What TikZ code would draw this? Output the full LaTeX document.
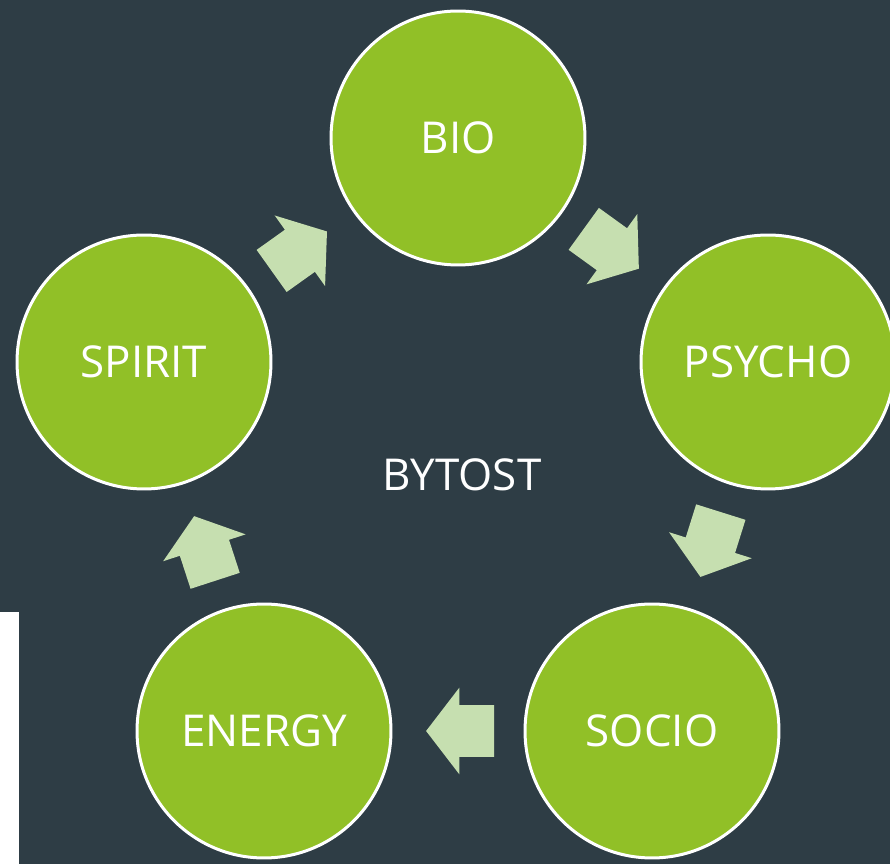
\documentclass[tikz,border=0pt]{standalone}
\usepackage{fontspec}
\setmainfont{Open Sans}
\usetikzlibrary{shapes.arrows,calc}
\definecolor{bgColor}{HTML}{2E3D45}
\definecolor{dotColor}{HTML}{91C027}
\definecolor{flowColor}{HTML}{C6DFB0}
\tikzset{
	stage/.style={circle, draw=white, line width=0.6mm, fill=dotColor, inner sep=0,
		minimum size=5.08cm, text=white, font=\fontsize{25}{30}\selectfont},
	flow/.style={single arrow, fill=flowColor, draw=none, inner xsep=0, inner ysep=5.1mm,
		minimum height=13.6mm, single arrow head extend=3.5mm, single arrow tip angle=105,
		sloped, allow upside down, xshift=-2.4mm}
}

\begin{document}
\begin{tikzpicture}[x=0.02cm, y=-0.02cm]
	\useasboundingbox (0,0) rectangle (890,864);
	\clip (0,0) rectangle (890,864);
	\fill[bgColor] (0,0) rectangle (890,864);
	\fill[white] (0,612) rectangle (19,864);
	\node[stage] (bio) at (458,138) {BIO};
	\node[stage] (psycho) at (768,362) {PSYCHO};
	\node[stage] (socio) at (652,731) {SOCIO};
	\node[stage] (energy) at (264,731) {ENERGY};
	\node[stage] (spirit) at (144,362) {SPIRIT};
	\node[text=white, font=\fontsize{25}{30}\selectfont] (bytost) at (462,475) {BYTOST};
	\path (bio) -- node[flow] {} (psycho);
	\path (psycho) -- node[flow] {} (socio);
	\path (socio) -- node[flow] {} (energy);
	\path (energy) -- node[flow] {} (spirit);
	\path (spirit) -- node[flow] {} (bio);
\end{tikzpicture}
\end{document}
